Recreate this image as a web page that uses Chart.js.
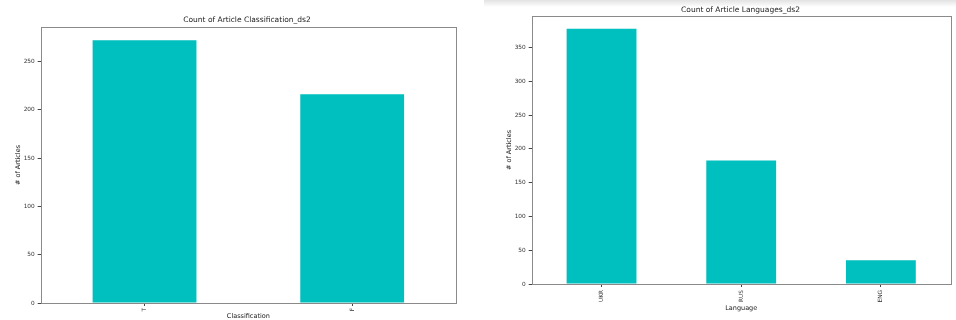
<!DOCTYPE html>
<html><head><meta charset="utf-8">
<script src="https://cdn.jsdelivr.net/npm/chart.js@4/dist/chart.umd.min.js"></script>
<style>
html,body{margin:0;padding:0;background:#fff;width:956px;height:320px;overflow:hidden;position:relative;}
canvas{position:absolute;top:0;}
#strip{position:absolute;left:484px;top:0;width:472px;height:7px;background:linear-gradient(#e2e2e2,#fff);}
</style></head>
<body>
<div id="strip"></div>
<canvas id="c1" width="478" height="320" style="left:0px;width:478px;height:320px"></canvas>
<canvas id="c2" width="478" height="320" style="left:478px;width:478px;height:320px"></canvas>
<script>
const classCategories = ["T", "F"];
const classCounts = [272, 216];
const langCategories = ["UKR", "RUS", "ENG"];
const langCounts = [378, 183, 35];
const yTickStep = 50;

const BAR = '#00bfbf';
const FONT = 'DejaVu Sans';

const framePlugin = {
  id: 'frame',
  afterDraw(chart, args, opts) {
    const {ctx, chartArea: a} = chart;
    ctx.save();
    ctx.strokeStyle = '#8a8a8a';
    ctx.lineWidth = 1;
    ctx.strokeRect(Math.round(a.left) + 0.5, Math.round(a.top) + 0.5, Math.round(a.right - a.left), Math.round(a.bottom - a.top));
    ctx.fillStyle = '#222';
    ctx.font = opts.size + 'px "' + FONT + '"';
    ctx.textAlign = 'center';
    ctx.textBaseline = 'middle';
    ctx.fillText(opts.text, opts.x, opts.y);
    ctx.restore();
  }
};

function makeChart(id, cats, vals, o) {
  const ymax = Math.max(...vals) * 1.05;
  return new Chart(document.getElementById(id), {
    type: 'bar',
    data: { labels: cats, datasets: [{ data: vals, backgroundColor: BAR, borderWidth: 0,
      categoryPercentage: 1.0, barPercentage: 0.5 }] },
    plugins: [framePlugin],
    options: {
      responsive: false, animation: false, devicePixelRatio: 1,
      layout: { padding: o.pad },
      plugins: { legend: { display: false }, tooltip: { enabled: false },
        frame: { text: o.title, x: o.tx, y: o.ty, size: 7.5 } },
      scales: {
        x: {
          offset: true,
          grid: { display: true, offset: false, drawOnChartArea: false, drawTicks: true, tickLength: 3, color: '#444' },
          border: { display: false },
          ticks: { minRotation: 90, maxRotation: 90, padding: o.xtp, color: '#333', font: { family: FONT, size: 5.8 } },
          title: { display: true, text: o.xlabel, color: '#222', font: { family: FONT, size: 6.5 }, padding: { top: o.xtitlePad, bottom: o.xtitlePad } },
          afterFit(s) { s.height = o.xh; }
        },
        y: {
          min: 0, max: ymax,
          grid: { display: true, drawOnChartArea: false, drawTicks: true, tickLength: 3, color: '#444' },
          border: { display: false },
          ticks: { stepSize: yTickStep, padding: 3, color: '#333', font: { family: FONT, size: 5.8 } },
          afterBuildTicks(s) { s.ticks = s.ticks.filter(t => Math.abs(t.value % yTickStep) < 1e-9); },
          title: { display: true, text: '# of Articles', color: '#222', font: { family: FONT, size: 6.5 }, padding: { top: o.ytitlePad, bottom: o.ytitlePad } },
          afterFit(s) { s.width = o.yw; }
        }
      }
    }
  });
}

makeChart('c1', classCategories, classCounts, {
  pad: { top: 27, right: 22, left: 0, bottom: 0 }, yw: 40.7, xh: 17,
  title: 'Count of Article Classification_ds2', tx: 247, ty: 20,
  xlabel: 'Classification', xtp: 2, xtitlePad: 0, ytitlePad: 14
});
makeChart('c2', langCategories, langCounts, {
  pad: { top: 16, right: 5.3, left: 0, bottom: 0 }, yw: 53.7, xh: 36,
  title: 'Count of Article Languages_ds2', tx: 262.5, ty: 10,
  xlabel: 'Language', xtp: 3, xtitlePad: 8, ytitlePad: 27
});
</script>
</body></html>
